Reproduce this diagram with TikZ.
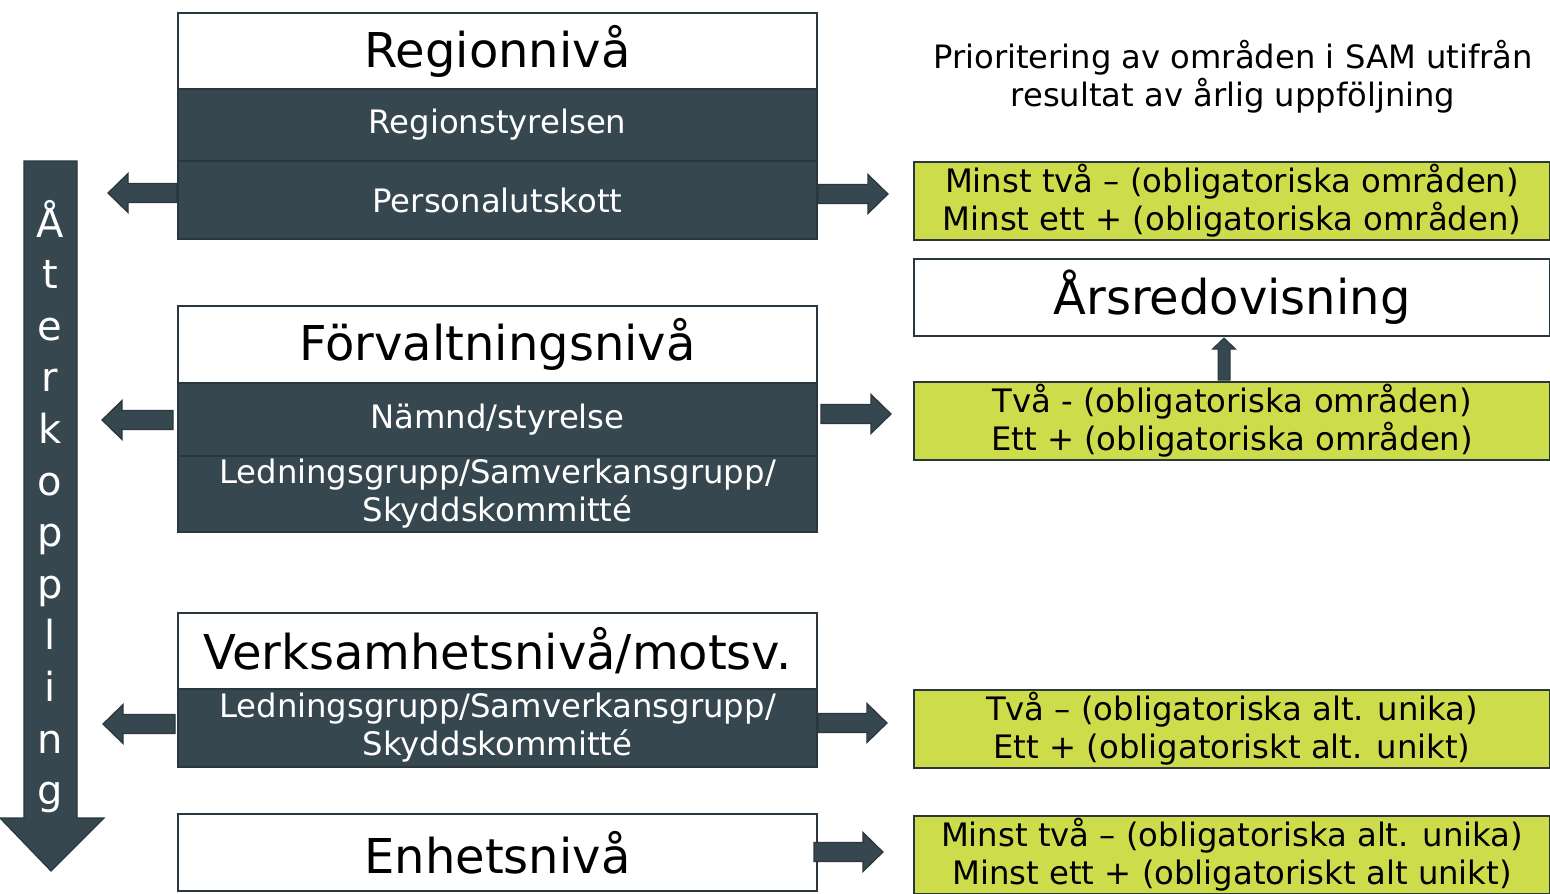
\documentclass[tikz,border=0pt]{standalone}
\usepackage{fontspec}
\setmainfont{DejaVu Sans}
\usetikzlibrary{calc}
\definecolor{slate}{HTML}{37474F}
\definecolor{edge}{HTML}{2A373E}
\definecolor{lime}{HTML}{CDDC4B}
\tikzset{
  box/.style={draw=edge, line width=2pt, inner sep=0pt, anchor=north west, align=center},
  hdr/.style={box, fill=white, text=black, font=\fontsize{48}{56}\selectfont},
  dark/.style={box, fill=slate, text=white, font=\fontsize{32.3}{38}\selectfont},
  grn/.style={box, fill=lime, text=black, font=\fontsize{32.3}{38}\selectfont, minimum width=636pt},
  blk/.style={fill=slate, draw=edge, line width=1.2pt, line join=miter},
  vlet/.style={text=white, font=\fontsize{40}{48}\selectfont, anchor=base, inner sep=0pt}
}
\newcommand\rarr[2]{\draw[blk] ($(#1)+(0,-9.5)$) -- ($(#2)+(-20,-9.5)$) -- ($(#2)+(-20,-19.5)$) -- (#2) -- ($(#2)+(-20,19.5)$) -- ($(#2)+(-20,9.5)$) -- ($(#1)+(0,9.5)$) -- cycle;}
\newcommand\larr[2]{\draw[blk] ($(#1)+(0,-9.5)$) -- ($(#2)+(20,-9.5)$) -- ($(#2)+(20,-19.5)$) -- (#2) -- ($(#2)+(20,19.5)$) -- ($(#2)+(20,9.5)$) -- ($(#1)+(0,9.5)$) -- cycle;}
\begin{document}
\begin{tikzpicture}[x=1pt,y=-1pt]
\useasboundingbox (0,0) rectangle (1550,894);
\fill[white] (0,0) rectangle (1550,894);

% Feedback arrow
\coordinate (fbtop) at (51,161);
\coordinate (fbtip) at (51,871);
\draw[blk] ($(fbtop)+(-27,0)$) -- ($(fbtop)+(26,0)$) -- ($(fbtip)+(26,-53)$) -- ($(fbtip)+(53,-53)$) -- (fbtip) -- ($(fbtip)+(-51,-53)$) -- ($(fbtip)+(-27,-53)$) -- cycle;
\foreach \c [count=\i from 0] in {Å,t,e,r,k,o,p,p,l,i,n,g}
  \node[vlet] (v\i) at (50,{237+51.6*\i}) {\c};

% Regionniva
\node[hdr, minimum width=639pt, minimum height=76pt] (reg1) at (177,12) {Regionnivå};
\node[dark, minimum width=639pt, minimum height=72pt] (reg2) at (177,88) {Regionstyrelsen};
\node[dark, minimum width=639pt, minimum height=78pt] (reg3) at (177,160) {Personalutskott};

% Forvaltningsniva
\node[hdr, minimum width=639pt, minimum height=77pt] (forv1) at (177,305) {Förvaltningsnivå};
\node[dark, minimum width=639pt, minimum height=73pt] (forv2) at (177,382) {Nämnd/styrelse};
\node[dark, minimum width=639pt, minimum height=76pt] (forv3) at (177,455) {Ledningsgrupp/Samverkansgrupp/\\Skyddskommitté};

% Verksamhetsniva
\node[hdr, minimum width=639pt, minimum height=76pt] (verk1) at (177,612) {Verksamhetsnivå/motsv.};
\node[dark, minimum width=639pt, minimum height=78pt] (verk2) at (177,688) {Ledningsgrupp/Samverkansgrupp/\\Skyddskommitté};

% Enhetsniva
\node[hdr, minimum width=639pt, minimum height=77pt] (enh) at (177,813) {Enhetsnivå};

% Right column
\node[align=center, inner sep=0pt, font=\fontsize{32.2}{38}\selectfont] (title) at (1233,77) {Prioritering av områden i SAM utifrån\\resultat av årlig uppföljning};
\node[grn, minimum height=78pt] (g1) at (913,161) {Minst två – (obligatoriska områden)\\Minst ett + (obligatoriska områden)};
\node[hdr, minimum width=636pt, minimum height=77pt] (ars) at (913,258) {Årsredovisning};
\node[grn, minimum height=78pt] (g2) at (913,381) {Två - (obligatoriska områden)\\Ett + (obligatoriska områden)};
\node[grn, minimum height=78pt] (g3) at (913,689) {Två – (obligatoriska alt. unika)\\Ett + (obligatoriskt alt. unikt)};
\node[grn, minimum height=78pt] (g4) at (913,815) {Minst två – (obligatoriska alt. unika)\\Minst ett + (obligatoriskt alt unikt)};

% Block arrows
\coordinate (L1) at (108,193);
\coordinate (R1) at (888,194);
\coordinate (L2) at (102,420);
\coordinate (R2) at (891,414);
\coordinate (L3) at (103,724);
\coordinate (R3) at (887,723);
\coordinate (R4) at (883,852);
\larr{reg3.west |- L1}{L1}
\rarr{reg3.east |- R1}{R1}
\larr{$(forv2.west |- L2)+(-4,0)$}{L2}
\rarr{$(forv2.east |- R2)+(3,0)$}{R2}
\larr{$(verk2.west |- L3)+(-2,0)$}{L3}
\rarr{verk2.east |- R3}{R3}
\rarr{$(enh.east |- R4)+(-4,0)$}{R4}

% Up arrow to Arsredovisning
\coordinate (ut) at (ars.south -| 1224,0);
\coordinate (ub) at (g2.north -| 1224,0);
\draw[blk, line width=1pt] ($(ub)+(-6,-1)$) -- ($(ut)+(-6,12)$) -- ($(ut)+(-11.5,12)$) -- ($(ut)+(0,1)$) -- ($(ut)+(11.5,12)$) -- ($(ut)+(6,12)$) -- ($(ub)+(6,-1)$) -- cycle;
\end{tikzpicture}
\end{document}
